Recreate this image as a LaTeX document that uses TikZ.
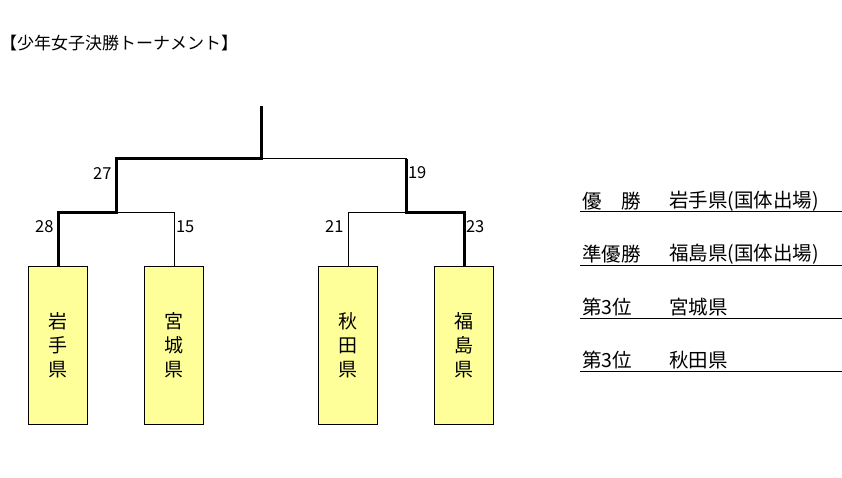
\documentclass[tikz,border=0pt]{standalone}
\usepackage{fontspec}
\setmainfont{Noto Sans CJK JP}
\usetikzlibrary{positioning}
\definecolor{boxyellow}{RGB}{255,255,153}

\begin{document}
\begin{tikzpicture}[x=1pt,y=-1pt,grow=down,
  edge from parent path={(\tikzparentnode) -| (\tikzchildnode)}] % トーナメント表
\tikzstyle{team} = [draw, line width=1pt, fill=boxyellow, minimum width=59pt, minimum height=158pt, inner sep=0pt, align=center, font=\fontsize{19}{24}\selectfont] % 県の箱
\tikzstyle{lscore} = [anchor=east, inner sep=4pt, font=\fontsize{16.5}{16.5}\selectfont] % 線の左の得点
\tikzstyle{rscore} = [anchor=west, inner sep=1.5pt, font=\fontsize{16.5}{16.5}\selectfont] % 線の右の得点
\tikzstyle{win} = [line width=3pt] % 勝ち上がりの太線
\tikzstyle{rankrow} = [anchor=west, inner sep=0pt, font=\fontsize{19.5}{19.5}\selectfont] % 成績の行
\tikzstyle{level 1}=[sibling distance=290pt, level distance=54pt] % 準決勝
\tikzstyle{level 2}=[sibling distance=116pt, level distance=132pt] % 1回戦
\tikzstyle{edge from parent}=[draw, line width=1pt]

\useasboundingbox (0,0) rectangle (842,478);

\node[anchor=west, inner sep=0pt, font=\fontsize{17}{17}\selectfont] (title) at (0,43) {【少年女子決勝トーナメント】};

\coordinate (top) at (261,106);
\node[coordinate] (final) at (261,159) {}
    child { node[coordinate] (semiL) {}
                child { node[team] (iwate) {岩\\手\\県}
                edge from parent node[lscore, pos=0.63] {28} }
                child { node[team] (miyagi) {宮\\城\\県}
                edge from parent node[rscore, pos=0.63] {15} }
    edge from parent node[lscore, pos=0.63] {27} }
    child { node[coordinate] (semiR) {}
                child { node[team] (akita) {秋\\田\\県}
                edge from parent node[lscore, pos=0.63] {21} }
                child { node[team] (fukushima) {福\\島\\県}
                edge from parent node[rscore, pos=0.63] {23} }
    edge from parent node[rscore, pos=0.63] {19} };

% 勝ち上がり
\draw[win] (top) -- (final) -| (semiL) -| (iwate);
\draw[win] (final -| semiR) -- (semiR) -| (fukushima);

% 成績
\foreach \rank/\pref [count=\i] in {優　勝/岩手県(国体出場), 準優勝/福島県(国体出場), 第3位/宮城県, 第3位/秋田県} {
  \pgfmathsetmacro{\ly}{212+53*(\i-1)}
  \node[rankrow] (rank\i) at (582,\ly-11) {\rank};
  \node[rankrow] (pref\i) at (669,\ly-11) {\pref};
  \draw[line width=1pt] (580,\ly) -- (842,\ly);
}
\end{tikzpicture}
\end{document}
